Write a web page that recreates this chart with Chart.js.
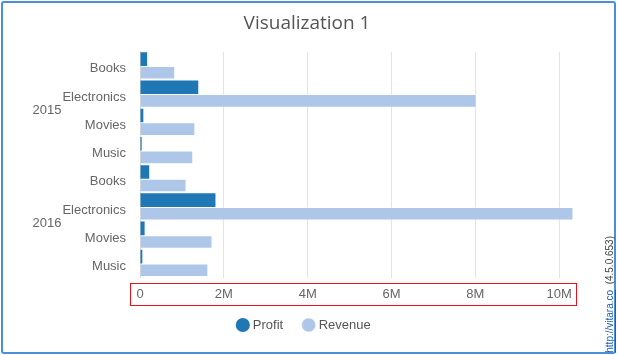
<!DOCTYPE html>
<html>
<head>
<meta charset="utf-8">
<script src="https://cdn.jsdelivr.net/npm/chart.js@4.4.1/dist/chart.umd.min.js"></script>
<style>
  html, body { margin: 0; padding: 0; background: #fff; }
  #wrap { position: relative; width: 618px; height: 355px; overflow: hidden; }
  #c { position: absolute; left: 0; top: 0; }
  #frame { position: absolute; left: 1px; top: 1px; width: 615px; height: 353px; box-sizing: border-box;
           border: 2px solid #4a8fdb; border-radius: 3px; pointer-events: none; }
  #credit { position: absolute; left: 605px; bottom: 2px; writing-mode: vertical-rl; transform: rotate(180deg);
            font: 10px "Liberation Sans", Arial, sans-serif; line-height: 10px; color: #444; white-space: nowrap; }
  #credit a { color: #1a5fb4; text-decoration: underline; }
</style>
</head>
<body>
<div id="wrap">
  <canvas id="c" width="618" height="355"></canvas>
  <div id="frame"></div>
  <div id="credit"><a href="#">http://vitara.co</a>&nbsp;&nbsp;(4.5.0.653)</div>
</div>
<script>
const years = ['2015', '2016'];
const categories = ['Books', 'Electronics', 'Movies', 'Music'];
const profit2015 = [0.17e6, 1.39e6, 0.08e6, 0.04e6];
const profit2016 = [0.22e6, 1.80e6, 0.11e6, 0.055e6];
const revenue2015 = [0.84e6, 8.03e6, 1.32e6, 1.27e6];
const revenue2016 = [1.11e6, 10.34e6, 1.73e6, 1.63e6];
const xTicks = [0, 2e6, 4e6, 6e6, 8e6, 10e6];
const xTickLabels = ['0', '2M', '4M', '6M', '8M', '10M'];
const xMax = 10.4e6;

const labels = years.flatMap(() => categories);
const profit = profit2015.concat(profit2016);
const revenue = revenue2015.concat(revenue2016);

const font = { family: '"Liberation Sans", Arial, sans-serif', size: 13 };
const yPad = 14;

const redBox = {
  id: 'redBox',
  afterDraw(chart) {
    const x = chart.scales.x;
    const ctx = chart.ctx;
    ctx.save();
    ctx.strokeStyle = '#e8141c';
    ctx.lineWidth = 1;
    ctx.strokeRect(Math.round(x.left) - 9.5, Math.round(x.top) + 5.5, Math.round(x.right - x.left) + 10, 22);
    ctx.restore();
  }
};

const yearLabels = {
  id: 'yearLabels',
  afterDraw(chart) {
    const y = chart.scales.y;
    const ctx = chart.ctx;
    ctx.save();
    ctx.font = '13px "Liberation Sans", Arial, sans-serif';
    const maxW = Math.max(...categories.map(c => ctx.measureText(c).width));
    const xr = y.right - yPad - maxW - 1;
    ctx.fillStyle = '#666';
    ctx.textAlign = 'right';
    ctx.textBaseline = 'middle';
    const n = categories.length;
    years.forEach((yr, i) => {
      const py = (y.getPixelForValue(i * n) + y.getPixelForValue(i * n + n - 1)) / 2 + 2;
      ctx.fillText(yr, xr, py);
    });
    ctx.restore();
  }
};

const legendShift = {
  id: 'legendShift',
  afterLayout(chart) {
    const lg = chart.legend;
    if (lg) { lg.top -= 6; lg.bottom -= 6; lg.left -= 2; lg.right -= 2; }
  }
};

new Chart(document.getElementById('c'), {
  type: 'bar',
  data: {
    labels: labels,
    datasets: [
      { label: 'Profit', data: profit, backgroundColor: '#1f77b4', borderWidth: 0,
        categoryPercentage: 0.965, barPercentage: 1.0 },
      { label: 'Revenue', data: revenue, backgroundColor: '#aec7e8', borderColor: 'rgba(255,255,255,0.5)', borderWidth: 1,
        categoryPercentage: 0.965, barPercentage: 1.0 }
    ]
  },
  options: {
    indexAxis: 'y',
    responsive: false,
    animation: false,
    layout: { padding: { left: 38, right: 42, top: 0, bottom: 7.5 } },
    scales: {
      x: {
        type: 'linear', min: 0, max: xMax,
        afterBuildTicks(scale) { scale.ticks = xTicks.map(v => ({ value: v })); },
        afterFit(scale) { scale.height = 25; },
        ticks: { font: font, color: '#666', padding: 9,
                 callback(v) { const i = xTicks.indexOf(v); return i >= 0 ? xTickLabels[i] : ''; } },
        grid: { color: '#e3e3e3', drawTicks: false },
        border: { display: false }
      },
      y: {
        type: 'category',
        afterFit(scale) { scale.width = 102; },
        ticks: { font: font, color: '#666', padding: yPad, labelOffset: 3 },
        grid: { display: false, drawTicks: false },
        border: { display: true, color: '#d9d9d9' }
      }
    },
    plugins: {
      title: { display: true, text: 'Visualization 1', color: '#555',
               font: { family: '"Open Sans", sans-serif', size: 19, weight: 'normal' },
               padding: { top: 12, bottom: 17 } },
      legend: { position: 'bottom',
                labels: { usePointStyle: true, pointStyle: 'circle', boxWidth: 7, boxHeight: 10, padding: 22,
                          font: font, color: '#555' } },
      tooltip: { enabled: false }
    }
  },
  plugins: [redBox, yearLabels, legendShift]
});
</script>
</body>
</html>
